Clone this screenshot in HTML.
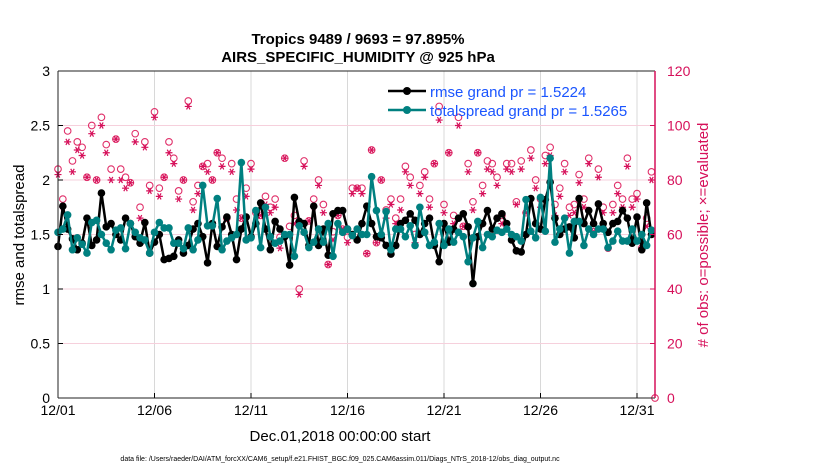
<!DOCTYPE html>
<html><head><meta charset="utf-8"><style>
body{margin:0;background:#fff;font-family:"Liberation Sans",sans-serif}
svg text{font-family:"Liberation Sans",sans-serif}
</style></head><body>
<svg id="chart" width="830" height="470" viewBox="0 0 830 470" xmlns="http://www.w3.org/2000/svg">
<g id="grid"></g>
<g id="obs"></g>
<g id="series"></g>
<g id="axes"></g>
<text x="358" y="44" text-anchor="middle" font-size="15" font-weight="bold">Tropics 9489 / 9693 = 97.895%</text>
<text x="358" y="62" text-anchor="middle" font-size="15" font-weight="bold">AIRS_SPECIFIC_HUMIDITY @ 925 hPa</text>
<text transform="translate(24,235) rotate(-90)" text-anchor="middle" font-size="15">rmse and totalspread</text>
<text transform="translate(708,235) rotate(-90)" text-anchor="middle" font-size="15" fill="#d6105a"># of obs: o=possible; ×=evaluated</text>
<text x="340" y="441" text-anchor="middle" font-size="15">Dec.01,2018 00:00:00 start</text>
<text x="340" y="461" text-anchor="middle" font-size="7">data file: /Users/raeder/DAI/ATM_forcXX/CAM6_setup/f.e21.FHIST_BGC.f09_025.CAM6assim.011/Diags_NTrS_2018-12/obs_diag_output.nc</text>
<g>
<g>
<line x1="388" y1="91" x2="426" y2="91" stroke="#000" stroke-width="2.5"/><circle cx="407" cy="91" r="4" fill="#000"/>
<text x="430" y="97" font-size="15" fill="#1a55ff">rmse grand pr = 1.5224</text></g>
<g>
<line x1="388" y1="110" x2="426" y2="110" stroke="#008080" stroke-width="2.5"/><circle cx="407" cy="110" r="4" fill="#008080"/>
<text x="430" y="116" font-size="15" fill="#1a55ff">totalspread grand pr = 1.5265</text></g>
</g>
</svg>
<script>
const rmse=[1.39,1.76,1.55,1.46,1.36,1.42,1.65,1.40,1.45,1.88,1.57,1.60,1.50,1.45,1.65,1.60,1.48,1.42,1.61,1.33,1.43,1.50,1.27,1.28,1.30,1.45,1.33,1.40,1.55,1.60,1.48,1.24,
1.60,1.39,1.57,1.66,1.50,1.27,1.55,1.66,1.48,1.60,1.79,1.55,1.36,1.62,1.55,1.48,1.22,1.84,1.62,1.60,1.40,1.76,1.40,1.55,1.31,1.69,1.72,1.72,1.55,1.50,1.45,1.60,
1.76,1.60,1.48,1.47,1.40,1.32,1.40,1.60,1.63,1.69,1.63,1.50,1.60,1.65,1.40,1.25,1.60,1.43,1.55,1.65,1.69,1.57,1.05,1.48,1.60,1.72,1.55,1.65,1.69,1.60,1.45,1.35,
1.34,1.50,1.83,1.60,1.55,1.82,1.98,1.65,1.50,1.55,1.57,1.47,1.83,1.60,1.72,1.60,1.78,1.60,1.52,1.60,1.62,1.72,1.65,1.42,1.66,1.36,1.79,1.50];
const spread=[1.52,1.55,1.68,1.36,1.47,1.41,1.33,1.61,1.63,1.50,1.42,1.36,1.54,1.56,1.37,1.60,1.52,1.47,1.45,1.33,1.52,1.61,1.56,1.56,1.42,1.42,1.37,1.56,1.36,1.45,1.95,1.58,
1.58,1.83,1.36,1.44,1.47,1.50,2.16,1.45,1.47,1.72,1.38,1.75,1.48,1.42,1.44,1.50,1.50,1.30,1.58,1.52,1.38,1.43,1.55,1.43,1.60,1.30,1.60,1.52,1.55,1.49,1.55,1.50,
1.50,2.03,1.72,1.50,1.71,1.36,1.55,1.55,1.48,1.58,1.40,1.75,1.52,1.40,1.43,1.60,1.40,1.55,1.43,1.52,1.48,1.25,1.47,1.62,1.38,1.50,1.48,1.54,1.52,1.55,1.50,1.48,
1.44,1.82,1.53,1.47,1.84,1.53,2.20,1.43,1.55,1.65,1.33,1.62,1.62,1.40,1.55,1.50,1.55,1.55,1.38,1.44,1.53,1.44,1.44,1.55,1.44,1.50,1.40,1.54];
const possible=[84,73,98,87,94,92,81,100,80,103,93,84,95,84,81,79,97,70,94,78,105,77,81,94,88,76,80,109,72,78,85,86,
80,90,88,66,86,73,66,77,86,68,67,74,70,73,59,88,63,67,40,87,65,73,80,71,49,61,67,62,59,77,
77,77,53,91,57,80,69,73,66,73,85,81,60,78,83,73,86,107,71,90,67,103,63,86,72,90,78,87,86,81,67,86,
86,72,87,68,91,80,73,89,92,71,77,86,70,71,82,73,88,61,84,70,55,71,78,73,88,73,75,55,66,83];
const evaluated=[82,70,94,83,91,89,81,97,80,100,90,80,95,80,77,79,94,66,92,76,103,74,81,90,86,73,80,107,69,75,85,83,
80,90,85,66,83,69,66,74,84,64,67,71,68,70,55,88,60,64,38,85,65,70,78,68,49,58,67,62,57,75,
77,75,53,91,57,80,66,71,64,69,83,78,57,75,81,70,86,102,68,90,64,100,63,83,69,90,75,84,83,78,64,84,
83,71,84,68,88,77,70,86,89,67,74,83,67,68,79,70,86,61,81,68,55,68,75,70,85,70,73,55,63,80];
const xTicks=["12/01","12/06","12/11","12/16","12/21","12/26","12/31"];
const yTicks=[0,0.5,1,1.5,2,2.5,3];
const y2Ticks=[0,20,40,60,80,100,120];

const L=58,R=655,T=71,B=398,stepDays=0.25,pxDay=(637-58)/30;
const xs=i=>L+i*stepDays*pxDay;
const xd=d=>L+d*pxDay;
const ys=v=>B-(v/3)*(B-T);
const yo=v=>B-(v/120)*(B-T);
const NS="http://www.w3.org/2000/svg";
function mk(tag,attrs,parent){const e=document.createElementNS(NS,tag);for(const k in attrs)e.setAttribute(k,attrs[k]);parent.appendChild(e);return e;}
const grid=document.getElementById('grid'),axes=document.getElementById('axes'),ser=document.getElementById('series'),obs=document.getElementById('obs');
mk('rect',{x:L,y:T,width:R-L,height:B-T,fill:'#fff'},grid);
xTicks.forEach((t,k)=>{const x=xd(k*5);
 const g=mk('line',{x1:x,y1:T,x2:x,y2:B,stroke:'#d8d8d8','stroke-width':1},grid);
 
 
 mk('line',{x1:x,y1:B,x2:x,y2:B-5,stroke:'#000'},axes);
 const tx=mk('text',{x:x,y:B+17,'text-anchor':'middle','font-size':14},axes);tx.textContent=t;
 
 
});
y2Ticks.forEach(v=>{const y=yo(v);
 const g=mk('line',{x1:L,y1:y,x2:R,y2:y,stroke:'#f6d0dc','stroke-width':1},grid);
 
 
 mk('line',{x1:R,y1:y,x2:R-5,y2:y,stroke:'#d6105a'},axes);
 const tx=mk('text',{x:R+12,y:y+5,'font-size':14,fill:'#d6105a'},axes);tx.textContent=v;
 
 
});
yTicks.forEach(v=>{const y=ys(v);
 mk('line',{x1:L,y1:y,x2:L+5,y2:y,stroke:'#000'},axes);
 const tx=mk('text',{x:L-8,y:y+5,'text-anchor':'end','font-size':14},axes);tx.textContent=v;
 
 
});
mk('line',{x1:L,y1:T,x2:L,y2:B,stroke:'#222'},axes);
mk('line',{x1:L,y1:B,x2:R,y2:B,stroke:'#222'},axes);
mk('line',{x1:L,y1:T,x2:R,y2:T,stroke:'#222'},axes);
mk('line',{x1:R,y1:T,x2:R,y2:B,stroke:'#d6105a','stroke-width':1.5},axes);
// obs
possible.forEach((v,i)=>{
 const c=mk('circle',{cx:xs(i),cy:yo(v),r:3.3,fill:'none',stroke:'#e0306a','stroke-width':1.1},obs);
 
 
});
evaluated.forEach((v,i)=>{
 const x=xs(i),y=yo(v),r=3.5;
 const p=mk('path',{d:`M${x-r},${y}H${x+r}M${x-r*0.5},${y-r*0.87}L${x+r*0.5},${y+r*0.87}M${x+r*0.5},${y-r*0.87}L${x-r*0.5},${y+r*0.87}`,stroke:'#d6105a','stroke-width':1.2,fill:'none'},obs);
 
 
});
const z=mk('circle',{cx:R,cy:yo(0),r:3.3,fill:'none',stroke:'#e0306a','stroke-width':1.1},obs);


function line(arr,col,name,ptname){
 const p=mk('polyline',{points:arr.map((v,i)=>xs(i)+','+ys(v)).join(' '),fill:'none',stroke:col,'stroke-width':2.5,'stroke-linejoin':'round'},ser);
 
 
 arr.forEach((v,i)=>{const c=mk('circle',{cx:xs(i),cy:ys(v),r:3.8,fill:col},ser);
  
  });
}
line(rmse,'#000','rmse-line','rmse-point');
line(spread,'#008080','totalspread-line','totalspread-point');
</script>
</body></html>
